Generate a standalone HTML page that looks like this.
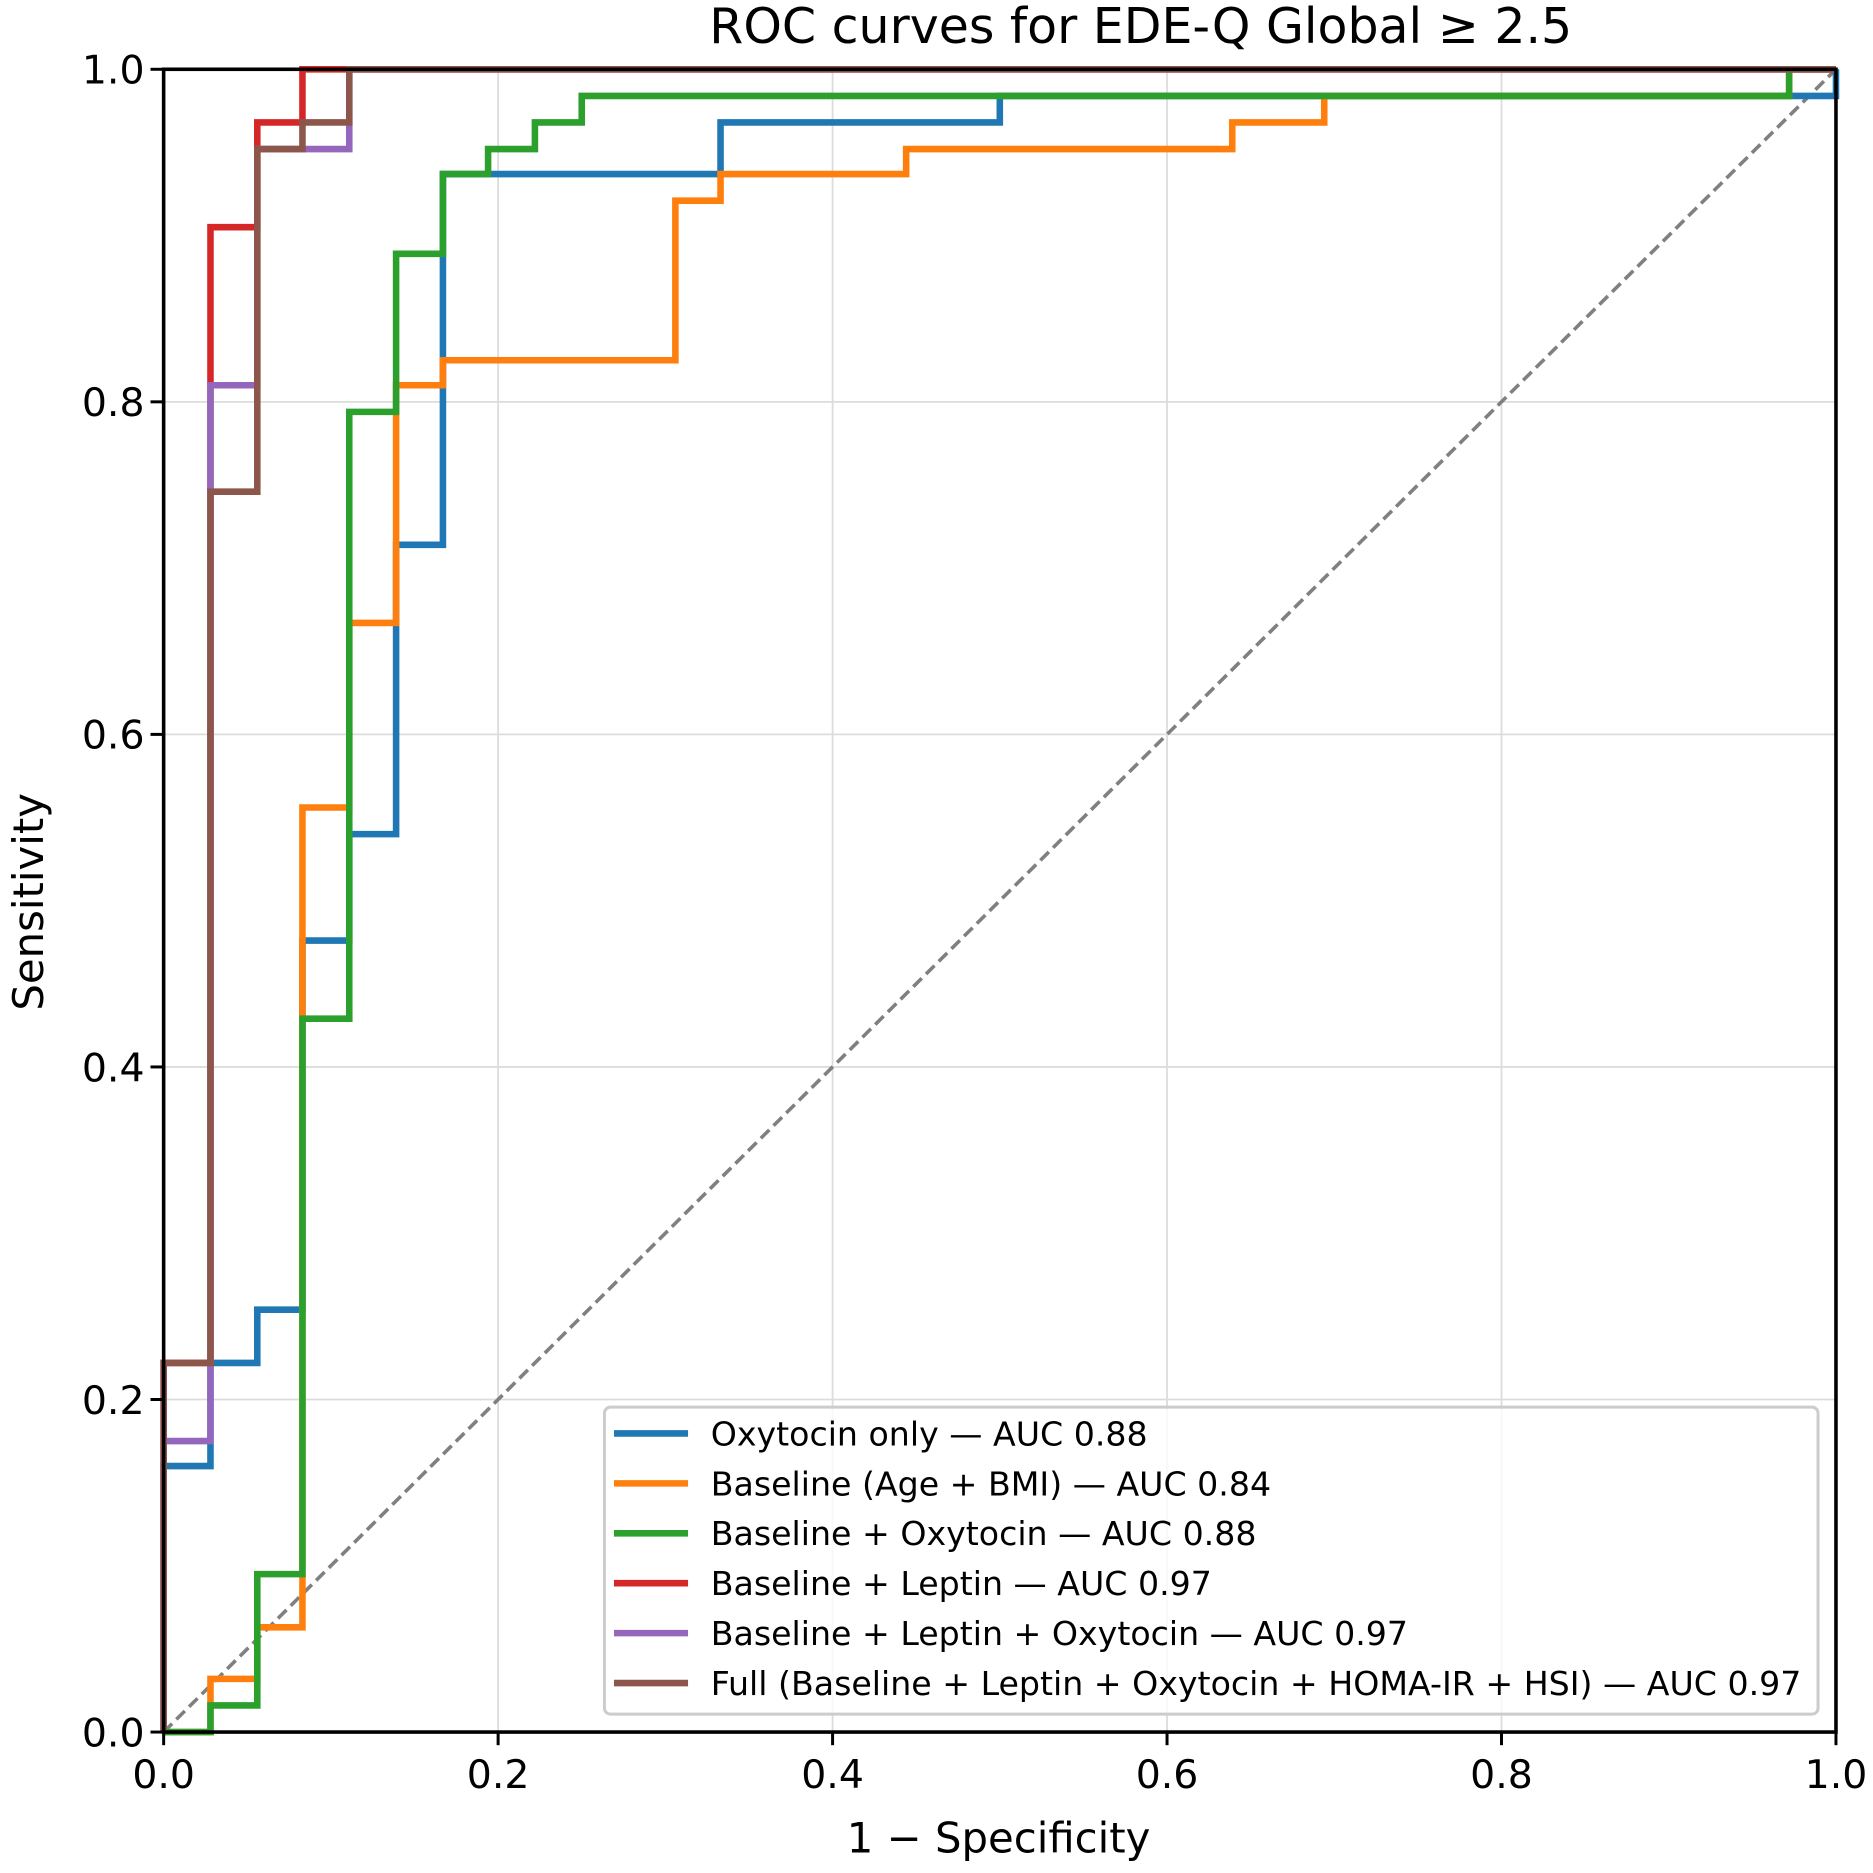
<!DOCTYPE html>
<html><head><meta charset="utf-8"><style>html,body{margin:0;padding:0;background:#fff}svg{display:block}text{font-family:"DejaVu Sans","Liberation Sans",sans-serif;fill:#000}</style></head>
<body>
<svg id="chart" width="1873" height="1873" viewBox="0 0 1568 1568" xmlns="http://www.w3.org/2000/svg">
<text x="955" y="36" font-size="41" text-anchor="middle">ROC curves for EDE-Q Global ≥ 2.5</text>
<g id="grid"></g>
<line x1="137" y1="1450" x2="1537" y2="58" stroke="#808080" stroke-width="3" stroke-dasharray="10,5"/>
<g id="curves"></g>
<rect x="137" y="58" width="1400" height="1392" fill="none" stroke="#000" stroke-width="3"/>
<g id="ticks"></g>
<text x="836" y="1551" font-size="35" text-anchor="middle">1 − Specificity</text>
<text transform="translate(36,755) rotate(-90)" font-size="35" text-anchor="middle">Sensitivity</text>
<g id="legend"></g>
</svg>
<script>
const tickValues=[0,0.2,0.4,0.6,0.8,1.0];
const tickLabels=["0.0","0.2","0.4","0.6","0.8","1.0"];
const seriesNames=["Oxytocin only — AUC 0.88","Baseline (Age + BMI) — AUC 0.84","Baseline + Oxytocin — AUC 0.88","Baseline + Leptin — AUC 0.97","Baseline + Leptin + Oxytocin — AUC 0.97","Full (Baseline + Leptin + Oxytocin + HOMA-IR + HSI) — AUC 0.97"];
const seriesColors=["#1f77b4","#ff7f0e","#2ca02c","#d62728","#9467bd","#8c564b"];
const blueFpr=[0,0,0.028,0.028,0.056,0.056,0.083,0.083,0.111,0.111,0.139,0.139,0.167,0.167,0.333,0.333,0.5,0.5,1,1];
const blueTpr=[0,0.16,0.16,0.222,0.222,0.254,0.254,0.476,0.476,0.54,0.54,0.714,0.714,0.937,0.937,0.968,0.968,0.984,0.984,1];
const orangeFpr=[0,0.028,0.028,0.056,0.056,0.083,0.083,0.111,0.111,0.139,0.139,0.167,0.167,0.306,0.306,0.333,0.333,0.444,0.444,0.639,0.639,0.694,0.694,0.972,0.972,1];
const orangeTpr=[0,0,0.032,0.032,0.063,0.063,0.556,0.556,0.667,0.667,0.81,0.81,0.825,0.825,0.921,0.921,0.937,0.937,0.952,0.952,0.968,0.968,0.984,0.984,1,1];
const greenFpr=[0,0.028,0.028,0.056,0.056,0.083,0.083,0.111,0.111,0.139,0.139,0.167,0.167,0.194,0.194,0.222,0.222,0.25,0.25,0.972,0.972,1];
const greenTpr=[0,0,0.016,0.016,0.095,0.095,0.429,0.429,0.794,0.794,0.889,0.889,0.937,0.937,0.952,0.952,0.968,0.968,0.984,0.984,1,1];
const redFpr=[0,0,0.028,0.028,0.056,0.056,0.083,0.083,1];
const redTpr=[0,0.222,0.222,0.905,0.905,0.968,0.968,1,1];
const purpleFpr=[0,0,0.028,0.028,0.056,0.056,0.111,0.111,1];
const purpleTpr=[0,0.175,0.175,0.81,0.81,0.952,0.952,1,1];
const brownFpr=[0,0,0.028,0.028,0.056,0.056,0.083,0.083,0.111,0.111,1];
const brownTpr=[0,0.222,0.222,0.746,0.746,0.952,0.952,0.968,0.968,1,1];

const NS="http://www.w3.org/2000/svg";
const X0=137,X1=1537,Y0=1450,Y1=58;
function xs(v){return X0+v*(X1-X0);}
function ys(v){return Y0-v*(Y0-Y1);}
function mk(t,a,p){const e=document.createElementNS(NS,t);for(const k in a)e.setAttribute(k,a[k]);p.appendChild(e);return e;}
const grid=document.getElementById('grid'),ticks=document.getElementById('ticks');
tickValues.forEach((v,i)=>{
  const gx=mk('line',{x1:xs(v),x2:xs(v),y1:Y0,y2:Y1,stroke:'#dcdcdc','stroke-width':1.5},grid);
  
  
  const gy=mk('line',{x1:X0,x2:X1,y1:ys(v),y2:ys(v),stroke:'#dcdcdc','stroke-width':1.5},grid);
  
  
  const tx=mk('line',{x1:xs(v),x2:xs(v),y1:Y0,y2:Y0+11,stroke:'#000','stroke-width':2.5},ticks);
  
  
  const lx=mk('text',{x:xs(v),y:Y0+47,'font-size':33,'text-anchor':'middle'},ticks);
  lx.textContent=tickLabels[i];
  
  
  const ty=mk('line',{x1:X0-11,x2:X0,y1:ys(v),y2:ys(v),stroke:'#000','stroke-width':2.5},ticks);
  
  
  const ly=mk('text',{x:X0-16,y:ys(v)+12,'font-size':33,'text-anchor':'end'},ticks);
  ly.textContent=tickLabels[i];
  
  
});
const allF=[blueFpr,orangeFpr,greenFpr,redFpr,purpleFpr,brownFpr];
const allT=[blueTpr,orangeTpr,greenTpr,redTpr,purpleTpr,brownTpr];
const curves=document.getElementById('curves');
allF.forEach((f,i)=>{
  const pts=f.map((v,j)=>xs(v).toFixed(1)+','+ys(allT[i][j]).toFixed(1)).join(' ');
  const pl=mk('polyline',{points:pts,fill:'none',stroke:seriesColors[i],'stroke-width':5.5,'stroke-linejoin':'miter'},curves);
  
  
});
const lg=document.getElementById('legend');
const box=mk('rect',{x:506,y:1178,width:1016,height:257,rx:5,fill:'#fff','fill-opacity':0.8,stroke:'#cccccc','stroke-width':2.5},lg);


seriesNames.forEach((n,i)=>{
  const y=1200+i*41.8;
  const l=mk('line',{x1:514,x2:576,y1:y,y2:y,stroke:seriesColors[i],'stroke-width':5.5},lg);
  
  
  const t=mk('text',{x:595,y:y+10,'font-size':27.8},lg);
  t.textContent=n;
  
  
});
</script>
</body></html>
